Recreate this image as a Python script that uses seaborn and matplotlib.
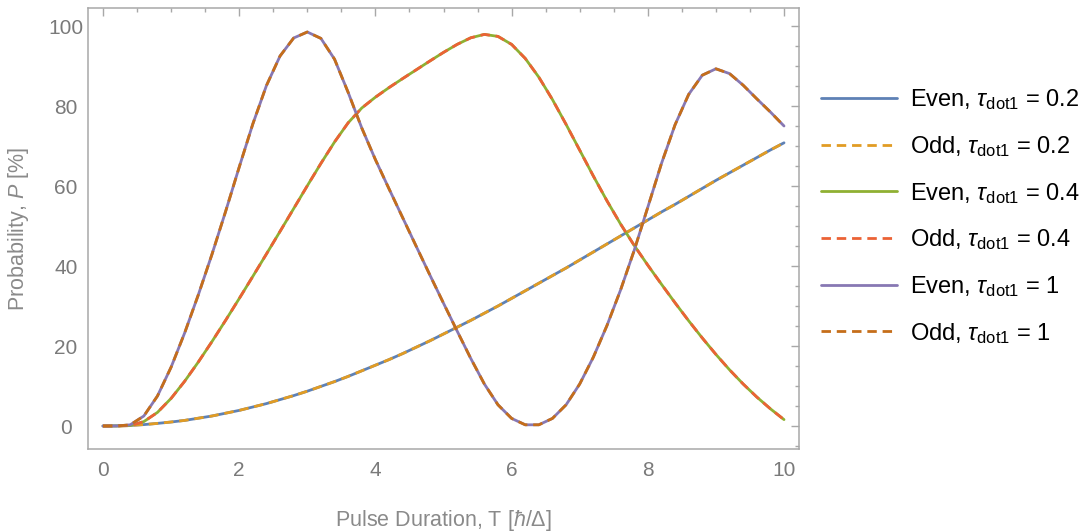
import numpy as np
import pandas as pd
import matplotlib
matplotlib.use("Agg")
import matplotlib.pyplot as plt
import seaborn as sns
from matplotlib.ticker import MultipleLocator

# ---------------- data ----------------
T = [round(0.2 * i, 1) for i in range(51)]

# slow curve (tau_dot1 = 0.2)
P_tau02 = [0, 0.05, 0.15, 0.35, 0.65, 1.0, 1.4, 1.95, 2.5, 3.2, 3.9, 4.75, 5.6, 6.6, 7.6,
           8.7, 9.9, 11.1, 12.4, 13.8, 15.2, 16.6, 18.1, 19.7, 21.3, 23.0, 24.7, 26.4,
           28.2, 30.0, 31.9, 33.8, 35.7, 37.6, 39.5, 41.5, 43.5, 45.5, 47.5, 49.5, 51.5,
           53.5, 55.4, 57.4, 59.4, 61.4, 63.3, 65.2, 67.1, 69.0, 70.8]

# middle curve (tau_dot1 = 0.4)
P_tau04 = [0, 0, 0.1, 1.1, 3.4, 6.9, 11.2, 16.0, 21.1, 26.4, 31.85, 37.4, 43.0, 48.65,
           54.35, 60.05, 65.65, 71.0, 75.8, 79.5, 82.2, 84.6, 86.85, 89.05, 91.25, 93.4,
           95.4, 97.05, 97.9, 97.4, 95.4, 91.9, 87.2, 81.6, 75.4, 68.95, 62.5, 56.3, 50.5,
           45.15, 40.2, 35.45, 30.8, 26.3, 22.0, 17.9, 14.05, 10.5, 7.25, 4.3, 1.6]

# fast curve (tau_dot1 = 1)
P_tau1 = [0, 0, 0.3, 2.5, 7.5, 14.7, 23.3, 32.8, 42.9, 53.6, 64.7, 75.5, 85.1, 92.5, 97.0,
          98.5, 96.9, 91.7, 83.4, 74.5, 66.6, 59.3, 52.1, 44.9, 37.75, 30.7, 23.75, 16.9,
          10.5, 5.3, 1.9, 0.3, 0.3, 1.9, 5.3, 10.5, 17.2, 25.1, 34.0, 43.9, 54.7, 65.6,
          75.3, 82.9, 87.7, 89.3, 88.1, 85.2, 81.8, 78.5, 75.0]

labels = [r"Even, $\tau_{\mathrm{dot1}}$ = 0.2", r"Odd, $\tau_{\mathrm{dot1}}$ = 0.2",
          r"Even, $\tau_{\mathrm{dot1}}$ = 0.4", r"Odd, $\tau_{\mathrm{dot1}}$ = 0.4",
          r"Even, $\tau_{\mathrm{dot1}}$ = 1", r"Odd, $\tau_{\mathrm{dot1}}$ = 1"]
series_values = [P_tau02, P_tau02, P_tau04, P_tau04, P_tau1, P_tau1]
colors = ["#5E81B5", "#E19C24", "#8FB032", "#EB6235", "#8778B3", "#C56E1A"]
dashed = [False, True, False, True, False, True]

x_ticks = [0, 2, 4, 6, 8, 10]
y_ticks = [0, 20, 40, 60, 80, 100]

# ---------------- style ----------------
sns.set_style("white")
plt.rcParams["font.family"] = ["Liberation Sans", "DejaVu Sans"]
plt.rcParams["mathtext.fontset"] = "custom"
plt.rcParams["mathtext.rm"] = "Liberation Sans"
plt.rcParams["mathtext.it"] = "Liberation Sans:italic"
plt.rcParams["mathtext.bf"] = "Liberation Sans:bold"

fig = plt.figure(figsize=(10.88, 5.31), dpi=100)
ax = fig.add_axes([88 / 1088, 1 - 449 / 531, (799 - 88) / 1088, (449 - 8) / 531])

for lab, vals, col, dsh in zip(labels, series_values, colors, dashed):
    df = pd.DataFrame({"T": T, "P": vals})
    line_ax = sns.lineplot(data=df, x="T", y="P", ax=ax, color=col, linewidth=2.0,
                           label=lab, estimator=None, sort=False)
    ln = line_ax.get_lines()[-1]
    ln.set_solid_joinstyle("round")
    ln.set_dash_joinstyle("round")
    if dsh:
        ln.set_dashes([3.4, 2.1])

ax.set_xlim(-0.22, 10.22)
ax.set_ylim(-5.75, 104.5)

frame_col = "#a8a8a8"
for sp in ax.spines.values():
    sp.set_visible(True)
    sp.set_color(frame_col)
    sp.set_linewidth(1.1)

ax.set_xticks(x_ticks)
ax.set_yticks(y_ticks)
ax.xaxis.set_minor_locator(MultipleLocator(0.5))
ax.yaxis.set_minor_locator(MultipleLocator(5))
ax.tick_params(which="both", direction="in", top=True, right=True, color=frame_col,
               width=1.0, labelcolor="#7a7a7a", labelsize=15)
ax.tick_params(which="major", length=6)
ax.tick_params(which="minor", length=3)
ax.tick_params(axis="x", which="major", pad=9)
ax.tick_params(axis="y", which="major", pad=16)
for t in ax.get_yticklabels():
    t.set_ha("center")

ax.set_xlabel(r"Pulse Duration, T [$\hbar$/Δ]", color="#8a8a8a", fontsize=15.5)
ax.xaxis.set_label_coords(0.5, -(508 - 449) / 441)
ax.xaxis.label.set_va("top")
ax.set_ylabel(r"Probability, $P$ [%]", color="#8a8a8a", fontsize=15.5)
ax.yaxis.set_label_coords(-57 / 711, 0.5)

leg = ax.legend(loc="center left", bbox_to_anchor=(821 / 1088, 1 - 216.5 / 531),
                bbox_transform=fig.transFigure, frameon=False, fontsize=17,
                handlelength=3.2, handletextpad=0.55, labelspacing=0.92, borderpad=0,
                borderaxespad=0)
for txt in leg.get_texts():
    txt.set_color("black")
for h in leg.get_lines():
    h.set_linewidth(2.0)

fig.savefig("out.png", dpi=100)
